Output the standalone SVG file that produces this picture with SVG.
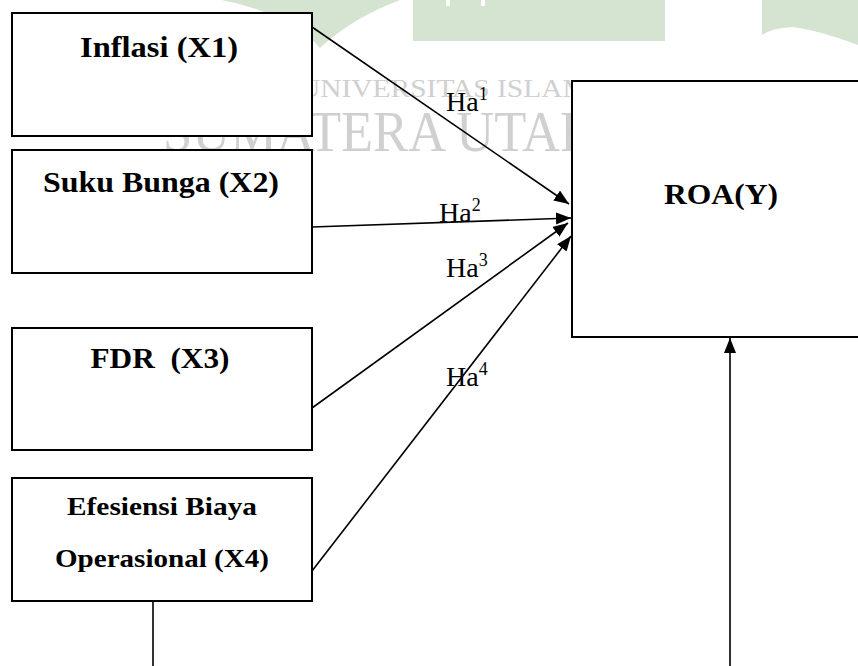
<svg xmlns="http://www.w3.org/2000/svg" width="858" height="666" viewBox="0 0 858 666">
<style>
.box{fill:#ffffff;stroke:#000000;stroke-width:2}
.t{font-family:"Liberation Serif","Times New Roman",serif;font-weight:bold;fill:#000000;text-anchor:middle}
.lbl{font-family:"Liberation Serif","Times New Roman",serif;font-size:28px;fill:#000000}
.sup{font-size:18px}
.con{fill:none;stroke:#000000;stroke-width:1.6}
.wm{fill:#d5e3d1}
.wmt{font-family:"Liberation Serif","Times New Roman",serif;fill:#d0d0d0}
</style>
<defs>
<marker id="ah" markerUnits="userSpaceOnUse" markerWidth="16" markerHeight="12" refX="15" refY="6" orient="auto">
<path d="M0,0 L15,6 L0,12 Z" fill="#000000"/>
</marker>
</defs>
<rect width="858" height="666" fill="#ffffff"/>
<g id="watermark">
<path class="wm" d="M222 0 L400 0 Q352 18 320 48 Q290 14 222 0 Z"/>
<rect class="wm" x="413" y="0" width="252" height="41"/>
<rect x="446" y="0" width="4" height="6" fill="#ffffff"/>
<rect x="481" y="0" width="4" height="6" fill="#ffffff"/>
<path class="wm" d="M762 0 L858 0 L858 45 Q818 30 792 27 Q772 28 762 35 Z"/>
<text class="wmt" x="299" y="97" font-size="26" textLength="405" lengthAdjust="spacingAndGlyphs">UNIVERSITAS ISLAM NEGERI</text>
<text class="wmt" x="163" y="151" font-size="58" textLength="470" lengthAdjust="spacingAndGlyphs">SUMATERA UTARA</text>
</g>
<g id="connectors">
<line class="con" x1="312" y1="27" x2="569" y2="204" marker-end="url(#ah)"/>
<line class="con" x1="312" y1="227" x2="571" y2="218" marker-end="url(#ah)"/>
<line class="con" x1="312" y1="408" x2="568" y2="223" marker-end="url(#ah)"/>
<line class="con" x1="312" y1="571" x2="571" y2="236" marker-end="url(#ah)"/>
<path class="con" d="M153 601 L153 700 L730 700 L730 338" stroke-width="2" marker-end="url(#ah)"/>
<text class="lbl" x="446" y="111">Ha<tspan class="sup" dy="-11">1</tspan></text>
<text class="lbl" x="439" y="222">Ha<tspan class="sup" dy="-11">2</tspan></text>
<text class="lbl" x="446" y="277">Ha<tspan class="sup" dy="-11">3</tspan></text>
<text class="lbl" x="446" y="386">Ha<tspan class="sup" dy="-11">4</tspan></text>
</g>
<g id="x1">
<rect class="box" x="12" y="13" width="300" height="123"/>
<text class="t" x="159" y="57" font-size="30" textLength="158" lengthAdjust="spacingAndGlyphs">Inflasi (X1)</text>
</g>
<g id="x2">
<rect class="box" x="12" y="150" width="300" height="123"/>
<text class="t" x="161" y="192" font-size="30" textLength="236" lengthAdjust="spacingAndGlyphs">Suku Bunga (X2)</text>
</g>
<g id="x3">
<rect class="box" x="12" y="328" width="300" height="122"/>
<text class="t" x="160" y="368" font-size="30" textLength="139" lengthAdjust="spacingAndGlyphs" xml:space="preserve">FDR  (X3)</text>
</g>
<g id="x4">
<rect class="box" x="12" y="478" width="300" height="123"/>
<text class="t" x="162" y="515" font-size="26" textLength="190" lengthAdjust="spacingAndGlyphs">Efesiensi Biaya</text>
<text class="t" x="162" y="567" font-size="26" textLength="214" lengthAdjust="spacingAndGlyphs">Operasional (X4)</text>
</g>
<g id="y">
<rect class="box" x="572" y="81" width="300" height="256"/>
<text class="t" x="721" y="204" font-size="30" textLength="114" lengthAdjust="spacingAndGlyphs">ROA(Y)</text>
</g>
</svg>
